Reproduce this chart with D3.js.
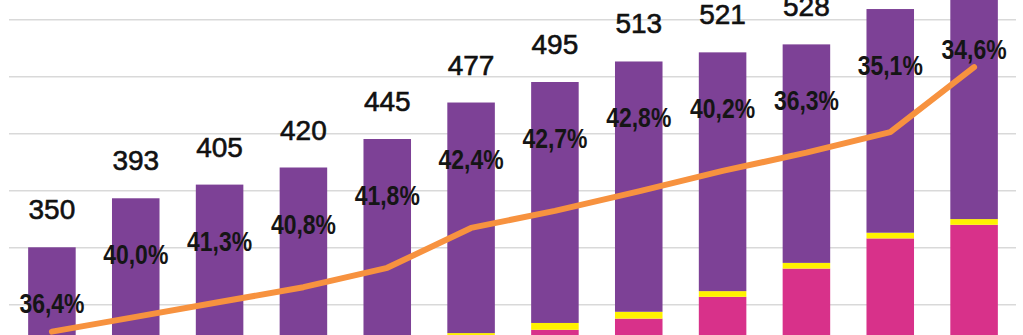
<!DOCTYPE html>
<html>
<head>
<meta charset="utf-8">
<script src="https://cdn.jsdelivr.net/npm/d3@7"></script>
<style>
  html, body { margin: 0; padding: 0; background: #ffffff; overflow: hidden; }
  svg { display: block; }
</style>
</head>
<body>
<svg id="chart" width="1023" height="335"></svg>
<script>
// Periods along the x axis
const categories = ["1", "2", "3", "4", "5", "6", "7", "8", "9", "10", "11", "12"];
// Total per period (label above each bar)
const totals = [350, 393, 405, 420, 445, 477, 495, 513, 521, 528, 559, 573];
// Share of the total held by the top (purple) segment, in %
const topShare = [36.4, 40.0, 41.3, 40.8, 41.8, 42.4, 42.7, 42.8, 40.2, 36.3, 35.1, 34.6];
// Thin middle (yellow) segment
const midValues = [5, 5, 5, 5, 5, 5, 6, 6, 5, 5, 5, 5];
// Trend line
const trendValues = [276, 289, 302, 315, 332, 367, 382, 399, 417, 433, 451, 508];
// Gridline values
const gridTicks = [0, 50, 100, 150, 200, 250, 300, 350, 400, 450, 500, 550];

const colors = { base: "#D8318A", mid: "#FFF200", top: "#7D4196", line: "#F7923F", grid: "#D9D9D9" };

const svg = d3.select("#chart");

const x = d3.scaleBand()
  .domain(categories)
  .range([10, 1016])
  .paddingInner(0.433)
  .paddingOuter(0.2165);

const y = d3.scaleLinear()
  .domain([0, 550])
  .range([646.3, 19.3]);

// Stacked rows: base segment, thin middle segment, top segment
const rows = categories.map((c, i) => {
  const top = totals[i] * topShare[i] / 100;
  const mid = midValues[i];
  const base = totals[i] - top - mid;
  return { cat: c, base, mid, top, total: totals[i], share: topShare[i] };
});

const stack = d3.stack().keys(["base", "mid", "top"]);
const series = stack(rows);

// Horizontal gridlines
const grid = svg.append("g")
  .attr("transform", "translate(9,0)")
  .call(d3.axisLeft(y).tickValues(gridTicks).tickSize(-1007).tickFormat(""));
grid.select(".domain").remove();
grid.selectAll(".tick line").attr("stroke", colors.grid).attr("stroke-width", 1.6);

// Bars
svg.append("g")
  .selectAll("g")
  .data(series)
  .join("g")
  .attr("fill", d => colors[d.key])
  .selectAll("rect")
  .data(d => d)
  .join("rect")
  .attr("x", d => x(d.data.cat))
  .attr("width", x.bandwidth())
  .attr("y", d => y(d[1]))
  .attr("height", d => y(d[0]) - y(d[1]));

// Trend line
const line = d3.line()
  .x((d, i) => x(categories[i]) + x.bandwidth() / 2)
  .y(d => y(d));

svg.append("path")
  .datum(trendValues)
  .attr("d", line)
  .attr("fill", "none")
  .attr("stroke", colors.line)
  .attr("stroke-width", 6)
  .attr("stroke-linecap", "round")
  .attr("stroke-linejoin", "round");

// Total labels above the bars
svg.append("g")
  .selectAll("text")
  .data(rows)
  .join("text")
  .attr("x", d => x(d.cat) + x.bandwidth() / 2)
  .attr("y", d => y(d.total) - 28)
  .attr("text-anchor", "middle")
  .attr("font-family", "'Liberation Sans', Arial, sans-serif")
  .attr("font-size", 28)
  .attr("fill", "#111111")
  .attr("stroke", "#111111")
  .attr("stroke-width", 0.6)
  .text(d => d.total);

// Share labels inside the top segment
const fmt = d3.formatLocale({ decimal: ",", thousands: " ", grouping: [3], currency: ["", ""] }).format(".1f");
svg.append("g")
  .selectAll("text")
  .data(rows)
  .join("text")
  .attr("transform", d => `translate(${x(d.cat) + x.bandwidth() / 2},${y(d.total) + 66}) scale(0.82,1)`)
  .attr("text-anchor", "middle")
  .attr("font-family", "'Liberation Sans', Arial, sans-serif")
  .attr("font-weight", "bold")
  .attr("font-size", 28)
  .attr("fill", "#151515")
  .text(d => fmt(d.share) + "%");
</script>
</body>
</html>
